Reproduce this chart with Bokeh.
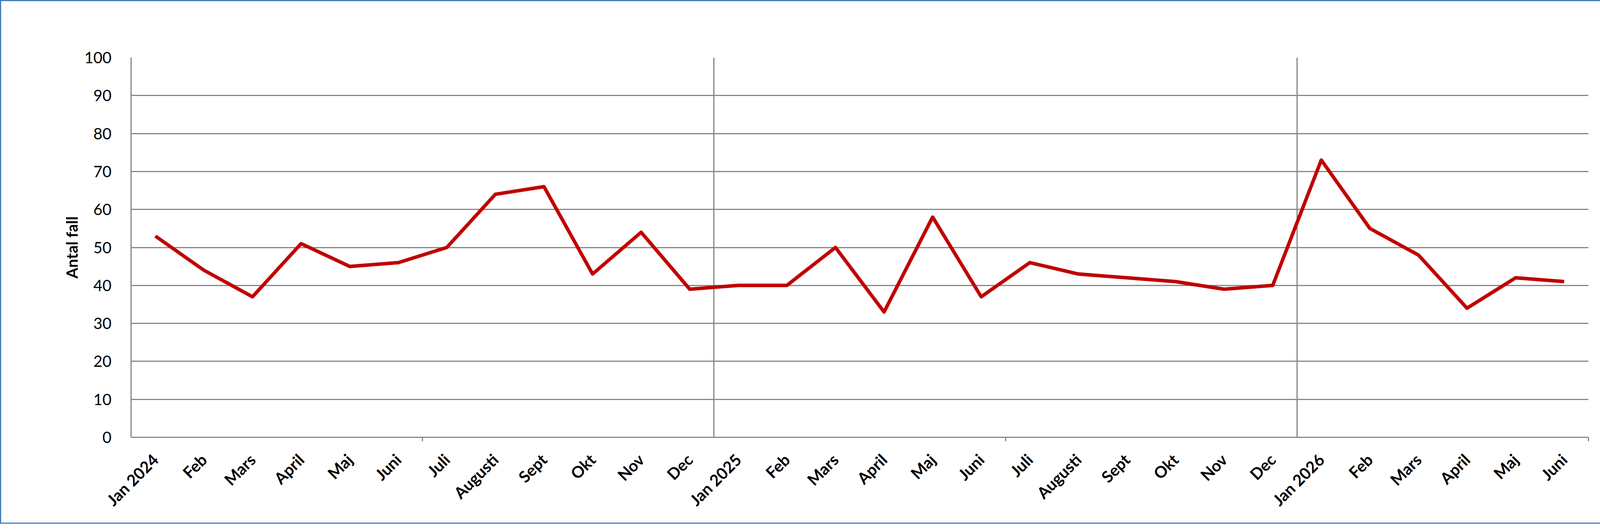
from bokeh.plotting import figure
from bokeh.models import FixedTicker, Range1d
from bokeh.embed import file_html
from bokeh.resources import INLINE

# ---- data ----
months = ["Jan 2024", "Feb", "Mars", "April", "Maj", "Juni", "Juli", "Augusti", "Sept", "Okt", "Nov", "Dec",
          "Jan 2025", "Feb", "Mars", "April", "Maj", "Juni", "Juli", "Augusti", "Sept", "Okt", "Nov", "Dec",
          "Jan 2026", "Feb", "Mars", "April", "Maj", "Juni"]
antal_fall = [53, 44, 37, 51, 45, 46, 50, 64, 66, 43, 54, 39,
              40, 40, 50, 33, 58, 37, 46, 43, 42, 41, 39, 40,
              73, 55, 48, 34, 42, 41]
y_ticks = [0, 10, 20, 30, 40, 50, 60, 70, 80, 90, 100]
y_label = "Antal fall"
year_boundaries = [12, 24]
half_year_marks = [6, 18, 30]

# ---- styling ----
GRID = "#878787"
LINE = "#C00000"
FONT = "Lato"

n = len(months)
x_pos = [i + 0.5 for i in range(n)]

p = figure(frame_width=3731, frame_height=973, output_backend="svg", toolbar_location=None,
           x_range=Range1d(0, n), y_range=Range1d(0, 100),
           min_border_left=332, min_border_right=118, min_border_top=144, min_border_bottom=219)
p.outline_line_color = None
p.background_fill_color = "white"
p.border_fill_color = "white"
p.styles = {"border": "3px solid #4A7EBB"}

p.line(x_pos, antal_fall, line_color=LINE, line_width=9, line_join="round")

# y axis
p.yaxis.ticker = FixedTicker(ticks=y_ticks)
p.yaxis.axis_line_color = GRID
p.yaxis.axis_line_width = 3
p.yaxis.major_tick_line_color = None
p.yaxis.minor_tick_line_color = None
p.yaxis.major_label_standoff = 44
p.yaxis.major_label_text_font = FONT
p.yaxis.major_label_text_font_size = "40px"
p.yaxis.major_label_text_color = "black"
p.yaxis.axis_label = y_label
p.yaxis.axis_label_text_font = FONT
p.yaxis.axis_label_text_font_style = "bold"
p.yaxis.axis_label_text_font_size = "40px"
p.yaxis.axis_label_text_color = "black"
p.yaxis.axis_label_standoff = 5

p.ygrid.ticker = FixedTicker(ticks=y_ticks)
p.ygrid.grid_line_color = GRID
p.ygrid.grid_line_width = 3

# x axis
p.xaxis.ticker = FixedTicker(ticks=x_pos, minor_ticks=half_year_marks)
p.xaxis.major_label_overrides = {x: m for x, m in zip(x_pos, months)}
p.xaxis.axis_line_color = GRID
p.xaxis.axis_line_width = 3
p.xaxis.major_tick_line_color = None
p.xaxis.minor_tick_line_color = GRID
p.xaxis.minor_tick_line_width = 3
p.xaxis.minor_tick_in = 0
p.xaxis.minor_tick_out = 10
p.xaxis.major_label_orientation = 0.785398
p.xaxis.major_label_standoff = 40
p.xaxis.major_label_text_font = FONT
p.xaxis.major_label_text_font_style = "bold"
p.xaxis.major_label_text_font_size = "41px"
p.xaxis.major_label_text_color = "black"

p.xgrid.ticker = FixedTicker(ticks=year_boundaries)
p.xgrid.grid_line_color = GRID
p.xgrid.grid_line_width = 3

open("out.html", "w").write(file_html(p, INLINE))
